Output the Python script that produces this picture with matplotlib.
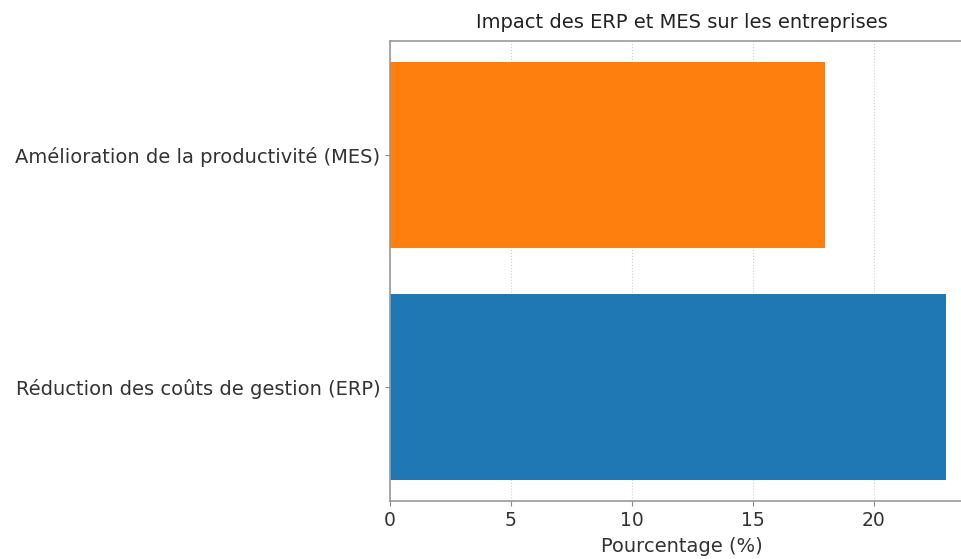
import matplotlib.pyplot as plt

categories = ['Réduction des coûts de gestion (ERP)', 'Amélioration de la productivité (MES)']
values = [23, 18]
colors = ['#1f77b4', '#ff7f0e']
xticks = [0, 5, 10, 15, 20]

plt.rcParams['font.family'] = ['DejaVu Sans']

fig = plt.figure(figsize=(9.62, 5.59), dpi=100)
# axes run past the right edge, as in the cropped reference
ax = fig.add_axes([390 / 962, 58 / 559, 584 / 962, 460 / 559])

ax.barh(categories, values, color=colors, height=0.8, zorder=2)
ax.set_xticks(xticks)
ax.grid(axis='x', linestyle=':', color='#bbbbbb', alpha=0.7, zorder=0)
ax.set_title('Impact des ERP et MES sur les entreprises', fontsize=14, color='#222222', pad=9)
ax.set_xlabel('Pourcentage (%)', fontsize=14, color='#333333', labelpad=5)
ax.tick_params(axis='x', labelsize=13.5, colors='#888888', labelcolor='#333333')
ax.tick_params(axis='y', labelsize=14, colors='#888888', labelcolor='#333333')
for s in ax.spines.values():
    s.set_color('#999999')
    s.set_linewidth(1.2)

fig.savefig('out.png', dpi=100)
